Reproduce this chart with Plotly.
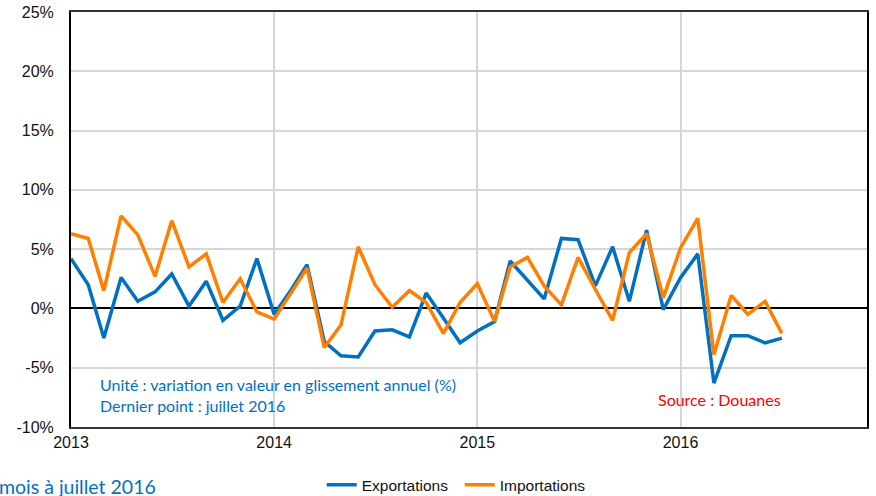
import pandas as pd
import plotly.graph_objects as go

months = pd.date_range("2013-01-01", "2016-07-01", freq="MS")

exportations = [4.2, 2.0, -2.5, 2.6, 0.6, 1.4, 2.9, 0.2, 2.3, -1.0, 0.2, 4.2,
                -0.5, 1.6, 3.7, -2.8, -4.0, -4.1, -1.9, -1.8, -2.4, 1.3, -0.8, -2.9,
                -1.9, -1.1, 4.0, 2.4, 0.8, 5.9, 5.8, 1.9, 5.2, 0.6, 6.6, -0.1,
                2.6, 4.6, -6.3, -2.3, -2.3, -2.9, -2.5]
importations = [6.3, 5.9, 1.5, 7.8, 6.2, 2.7, 7.4, 3.5, 4.6, 0.5, 2.5, -0.3,
                -0.9, 1.3, 3.4, -3.3, -1.4, 5.2, 2.0, 0.1, 1.5, 0.5, -2.1, 0.5,
                2.1, -1.1, 3.5, 4.3, 1.9, 0.3, 4.3, 1.6, -1.0, 4.7, 6.3, 0.9,
                5.1, 7.6, -3.9, 1.1, -0.5, 0.6, -2.1]

y_ticks = [-10, -5, 0, 5, 10, 15, 20, 25]
y_labels = [f"{v}%" for v in y_ticks]

fig = go.Figure()
fig.add_trace(go.Scatter(x=months, y=exportations, name="Exportations", mode="lines",
                         line=dict(color="#0070C0", width=3.5)))
fig.add_trace(go.Scatter(x=months, y=importations, name="Importations", mode="lines",
                         line=dict(color="#FF7F00", width=3.5)))

fig.update_layout(
    width=876, height=496,
    margin=dict(l=71, r=9, t=12, b=69, autoexpand=False),
    paper_bgcolor="white", plot_bgcolor="white",
    font=dict(family="Liberation Sans, Arial", size=16, color="#111111"),
    showlegend=True,
    legend=dict(orientation="h", x=0.315, y=-0.099, xanchor="left", yanchor="top",
                font=dict(size=15.5, family="Liberation Sans, Arial"),
                itemwidth=30, entrywidth=93, entrywidthmode="pixels",
                tracegroupgap=0, bgcolor="rgba(0,0,0,0)"),
    xaxis=dict(type="date", range=["2013-01-01", "2016-12-01"],
               dtick="M12", tick0="2013-01-01", tickformat="%Y",
               showgrid=True, gridcolor="#d6d6d6", gridwidth=1.5,
               showline=True, linecolor="#333333", linewidth=2, mirror=True,
               ticks="", ticklen=0, zeroline=False, automargin=False),
    yaxis=dict(range=[-10, 25], tickvals=y_ticks, ticktext=y_labels,
               showgrid=True, gridcolor="#d6d6d6", gridwidth=1.5,
               zeroline=True, zerolinecolor="black", zerolinewidth=1.5,
               showline=True, linecolor="black", linewidth=2, mirror=True,
               ticks="", ticklabelstandoff=12, automargin=False),
)

anno_font = "Lato, Open Sans, sans-serif"
fig.add_annotation(text="Unité : variation en valeur en glissement annuel (%)",
                   xref="paper", yref="paper", x=(98-71)/796, y=(427-384)/415,
                   xanchor="left", yanchor="middle", showarrow=False,
                   font=dict(family=anno_font, size=16, color="#0070C0"))
fig.add_annotation(text="Dernier point : juillet 2016",
                   xref="paper", yref="paper", x=(98-71)/796, y=(427-405)/415,
                   xanchor="left", yanchor="middle", showarrow=False,
                   font=dict(family=anno_font, size=16, color="#0070C0"))
fig.add_annotation(text="Source : Douanes",
                   xref="paper", yref="paper", x=(656-71)/796, y=(427-399)/415,
                   xanchor="left", yanchor="middle", showarrow=False,
                   font=dict(family=anno_font, size=16, color="#FF0000"))
fig.add_annotation(text="mois à juillet 2016",
                   xref="paper", yref="paper", x=(-3-71)/796, y=(427-486)/415,
                   xanchor="left", yanchor="middle", showarrow=False,
                   font=dict(family=anno_font, size=19.5, color="#0070C0"))

fig.write_html("out.html", config={"displayModeBar": False},
               post_script="document.body.style.margin='0';")
